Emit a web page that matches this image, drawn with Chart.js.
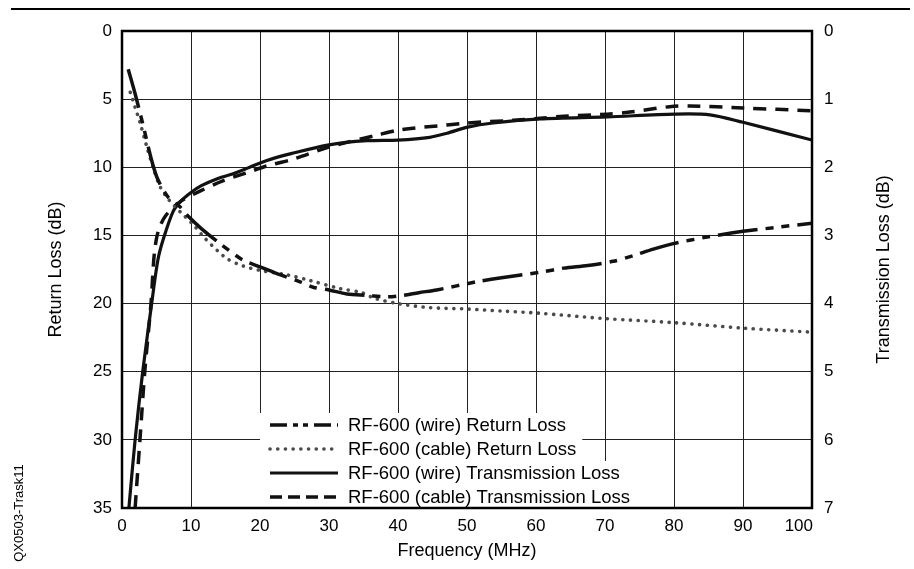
<!DOCTYPE html>
<html>
<head>
<meta charset="utf-8">
<script src="https://cdn.jsdelivr.net/npm/chart.js@4.4.1/dist/chart.umd.min.js"></script>
<style>
  html, body { margin: 0; padding: 0; background: #fff; }
  canvas { display: block; }
</style>
</head>
<body>
<canvas id="chart" width="914" height="569"></canvas>
<script>
// data
const wireRlFreq = [0.9, 1.9, 3.1, 4.3, 5.2, 6.7, 8.4, 9.6, 11.5, 14.2, 17.5, 20, 23, 25.8, 27.7, 30, 32.6, 35.5, 38.4, 40.7, 43, 45.6, 51.4, 55, 60.6, 64, 67.5, 71.2, 74, 77, 79.9, 85, 90, 95, 100];
const wireRl = [2.8, 4.6, 7.0, 9.5, 10.9, 12.2, 12.9, 13.6, 14.5, 15.6, 16.8, 17.3, 17.9, 18.4, 18.8, 19.0, 19.3, 19.4, 19.5, 19.4, 19.2, 19.0, 18.4, 18.1, 17.7, 17.4, 17.2, 16.9, 16.5, 16.0, 15.6, 15.1, 14.7, 14.4, 14.1];

const cableRlFreq = [1.2, 1.9, 2.6, 3.6, 4.5, 5.5, 6.5, 7.7, 8.7, 10.3, 12, 13.8, 15.2, 16.8, 18.6, 20.4, 24, 27.2, 31.6, 34.8, 36.5, 40, 44.6, 50.1, 55, 60.3, 70, 80, 90, 100];
const cableRl = [4.5, 5.6, 6.7, 8.5, 10.0, 11.4, 12.2, 12.9, 13.4, 14.2, 15.2, 16.1, 16.7, 17.1, 17.4, 17.6, 17.9, 18.3, 18.9, 19.2, 19.6, 20.0, 20.3, 20.4, 20.55, 20.7, 21.1, 21.4, 21.8, 22.1];

const wireTlFreq = [1.0, 1.9, 3.0, 4.3, 5.2, 6.0, 7.4, 8.5, 10, 11.5, 14, 16, 18.5, 21, 24.5, 30, 35.5, 40, 44.6, 47.1, 50.1, 53.8, 60.6, 70.3, 80.1, 85.2, 90, 100];
const wireTl = [7.0, 6.0, 5.0, 4.0, 3.36, 3.05, 2.65, 2.5, 2.37, 2.27, 2.16, 2.1, 2.0, 1.9, 1.8, 1.67, 1.61, 1.60, 1.56, 1.50, 1.41, 1.35, 1.29, 1.26, 1.22, 1.23, 1.34, 1.60];

const cableTlFreq = [1.9, 2.6, 3.3, 4.2, 4.7, 5.3, 6.4, 8.5, 11.3, 14.6, 18.1, 21, 24.5, 30.1, 36.9, 40.3, 47.1, 50, 56.7, 60.6, 64, 70.3, 73.6, 79.4, 82.3, 90, 100];
const cableTl = [7.0, 6.0, 5.0, 4.0, 3.25, 2.92, 2.7, 2.5, 2.35, 2.2, 2.08, 1.98, 1.89, 1.70, 1.53, 1.45, 1.38, 1.35, 1.31, 1.28, 1.25, 1.22, 1.19, 1.11, 1.10, 1.13, 1.17];

const seriesNames = [
  "RF-600 (wire) Return Loss",
  "RF-600 (cable) Return Loss",
  "RF-600 (wire) Transmission Loss",
  "RF-600 (cable) Transmission Loss"
];

const FONT = "'Liberation Sans', Arial, sans-serif";

const toPoints = (xs, ys) => xs.map((x, i) => ({ x, y: ys[i] }));

// legend, titles, frame and page marks
const decorations = {
  id: "decorations",
  afterDatasetsDraw(chart) {
    const { ctx, chartArea: ca, scales } = chart;
    ctx.save();

    // legend in the lower part of the plot
    const left = scales.x.getPixelForValue(20);
    const rowH = 24;
    const top = ca.bottom - rowH * 4 + 1;
    ctx.font = "18.5px " + FONT;
    ctx.textBaseline = "middle";
    chart.data.datasets.forEach((ds, i) => {
      const y0 = top + i * rowH;
      const w = ctx.measureText(ds.label).width;
      ctx.fillStyle = "#fff";
      ctx.fillRect(left, y0, 88 + w + 6, rowH);
    });
    chart.data.datasets.forEach((ds, i) => {
      const yc = top + i * rowH + rowH / 2;
      ctx.save();
      ctx.strokeStyle = ds.borderColor;
      ctx.lineWidth = ds.borderWidth;
      ctx.lineCap = ds.borderCapStyle || "butt";
      ctx.setLineDash(ds.legendDash || ds.borderDash || []);
      ctx.beginPath();
      ctx.moveTo(left + 10, yc);
      ctx.lineTo(left + 78, yc);
      ctx.stroke();
      ctx.restore();
      ctx.fillStyle = "#000";
      ctx.textAlign = "left";
      ctx.fillText(ds.label, left + 88, yc + 1);
    });

    // last x tick label sits inside the frame in the original
    ctx.font = "17px " + FONT;
    ctx.textAlign = "right";
    ctx.fillText(String(scales.x.max), ca.right + 1, ca.bottom + 18.2);

    // frame
    ctx.strokeStyle = "#000";
    ctx.lineWidth = 2.5;
    ctx.strokeRect(ca.left, ca.top, ca.right - ca.left, ca.bottom - ca.top);

    // top rule
    ctx.lineWidth = 2;
    ctx.beginPath();
    ctx.moveTo(11, 9);
    ctx.lineTo(910, 9);
    ctx.stroke();

    // axis titles
    ctx.fillStyle = "#000";
    ctx.textAlign = "center";
    ctx.textBaseline = "middle";
    ctx.font = "18px " + FONT;
    const midY = (ca.top + ca.bottom) / 2;
    ctx.fillText("Frequency (MHz)", (ca.left + ca.right) / 2, 551);
    [[56, "Return Loss (dB)"], [884, "Transmission Loss (dB)"]].forEach(([x, t]) => {
      ctx.save();
      ctx.translate(x, midY);
      ctx.rotate(-Math.PI / 2);
      ctx.fillText(t, 0, 0);
      ctx.restore();
    });

    // figure id
    ctx.font = "13px " + FONT;
    ctx.save();
    ctx.translate(19, 513);
    ctx.rotate(-Math.PI / 2);
    ctx.fillText("QX0503-Trask11", 0, 0);
    ctx.restore();

    ctx.restore();
  }
};

new Chart(document.getElementById("chart"), {
  type: "line",
  data: {
    datasets: [
      {
        label: seriesNames[0],
        data: toPoints(wireRlFreq, wireRl),
        yAxisID: "yRL",
        borderColor: "#111",
        borderWidth: 3.5,
        borderDash: [40, 8, 8, 8, 8, 8],
        legendDash: [17, 6, 5, 5, 5, 6]
      },
      {
        label: seriesNames[1],
        data: toPoints(cableRlFreq, cableRl),
        yAxisID: "yRL",
        borderColor: "#4a4a4a",
        borderWidth: 3.6,
        borderCapStyle: "round",
        borderDash: [0.1, 7.6],
        legendDash: [0.1, 7.6]
      },
      {
        label: seriesNames[2],
        data: toPoints(wireTlFreq, wireTl),
        yAxisID: "yTL",
        borderColor: "#111",
        borderWidth: 3.2
      },
      {
        label: seriesNames[3],
        data: toPoints(cableTlFreq, cableTl),
        yAxisID: "yTL",
        borderColor: "#111",
        borderWidth: 3.5,
        borderDash: [13, 9],
        legendDash: [12, 6]
      }
    ]
  },
  options: {
    responsive: false,
    animation: false,
    events: [],
    layout: { padding: { top: 31, left: 0, right: 0, bottom: 0 } },
    elements: {
      point: { radius: 0 },
      line: { tension: 0.3, fill: false }
    },
    plugins: {
      legend: { display: false },
      tooltip: { enabled: false }
    },
    scales: {
      x: {
        type: "linear",
        min: 0,
        max: 100,
        afterFit: (s) => { s.height = 61; },
        ticks: {
          stepSize: 10,
          color: "#000",
          padding: 8,
          maxRotation: 0,
          font: { family: FONT, size: 17 },
          callback: (v) => (v === 100 ? "" : v)
        },
        grid: { color: "#222", lineWidth: 1, drawTicks: false },
        border: { display: false }
      },
      yRL: {
        position: "left",
        reverse: true,
        min: 0,
        max: 35,
        afterFit: (s) => { s.width = 122; },
        ticks: { stepSize: 5, color: "#000", padding: 10, font: { family: FONT, size: 17 } },
        grid: { color: "#222", lineWidth: 1, drawTicks: false },
        border: { display: false }
      },
      yTL: {
        position: "right",
        reverse: true,
        min: 0,
        max: 7,
        afterFit: (s) => { s.width = 102; },
        ticks: { stepSize: 1, color: "#000", padding: 12, font: { family: FONT, size: 17 } },
        grid: { display: false, drawTicks: false },
        border: { display: false }
      }
    }
  },
  plugins: [decorations]
});
</script>
</body>
</html>
